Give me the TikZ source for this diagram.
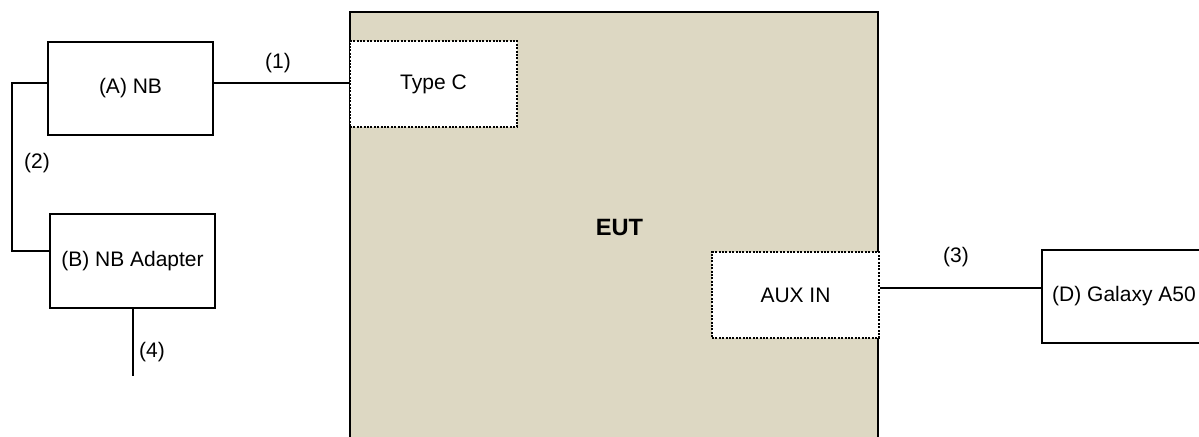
\documentclass[tikz,border=0pt]{standalone}
\usepackage{fontspec}
\setmainfont{Liberation Sans}
\definecolor{eutfill}{RGB}{221,216,195}
\begin{document}
\begin{tikzpicture}[x=0.5pt,y=-0.5pt,
  every node/.style={font=\fontsize{10.5pt}{12.5pt}\selectfont},
  devbox/.style={draw=black,line width=1.1pt,fill=white,inner sep=0pt,minimum width=82.5pt,minimum height=46.5pt},
  portbox/.style={draw=black,line width=1.1pt,fill=white,inner sep=0pt,dash pattern=on 1pt off 0.7pt,minimum width=83.5pt,minimum height=43pt},
  eutbox/.style={draw=black,line width=1.1pt,fill=eutfill,inner sep=0pt,minimum width=264pt,minimum height=229pt},
  wire/.style={draw=black,line width=0.55pt},
  lbl/.style={inner sep=0pt}]
\useasboundingbox (0,0) rectangle (1199,436);
\node[eutbox] (EUT) at (614,241) {};
\node[font=\fontsize{11.8pt}{14pt}\selectfont\bfseries] (EUTlbl) at (619.5,227.5) {EUT};
\node[portbox] (TC) at (433.5,84) {Type C};
\node[portbox] (AUX) at (795.5,295) {AUX IN};
\node[devbox] (NB) at (130.5,88.5) {(A) NB};
\node[devbox,minimum height=47pt] (AD) at (132.5,261) {(B) NB Adapter};
\node[devbox,minimum width=82pt] (GA) at (1124,296.5) {(D) Galaxy A50};
\coordinate (c1) at (280,83);
\coordinate (c2a) at (12,83);
\coordinate (c2b) at (12,251);
\coordinate (c3) at (960,288);
\coordinate (c4) at (133,376);
\draw[wire] (NB.east |- c1) -- (TC.west |- c1);
\draw[wire] (NB.west |- c2a) -- (c2a) -- (c2b) -- (AD.west |- c2b);
\draw[wire] (AUX.east |- c3) -- (GA.west |- c3);
\draw[wire] (AD.south -| c4) -- (c4);
\node[lbl] (l1) at (278,63) {(1)};
\node[lbl] (l2) at (37,163) {(2)};
\node[lbl] (l3) at (956,257) {(3)};
\node[lbl] (l4) at (152,352) {(4)};
\end{tikzpicture}
\end{document}
